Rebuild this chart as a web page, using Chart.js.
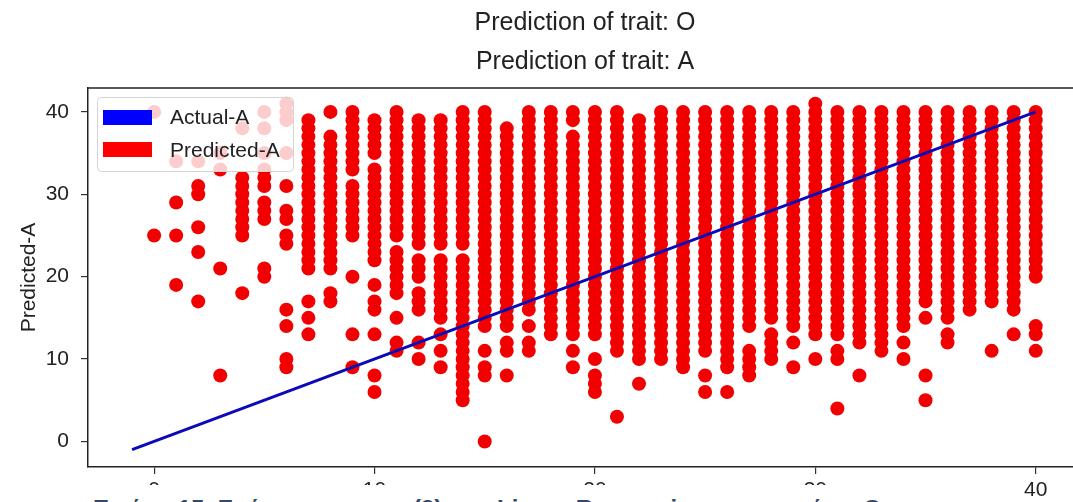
<!DOCTYPE html>
<html>
<head>
<meta charset="utf-8">
<script src="https://cdn.jsdelivr.net/npm/chart.js@4.4.0/dist/chart.umd.min.js"></script>
<style>
  html, body { margin: 0; padding: 0; background: #fff; overflow: hidden; width: 1073px; height: 502px; }
  #wrap { position: relative; width: 1073px; height: 502px; overflow: hidden; }
  #chartCanvas { position: absolute; left: 0; top: 0; }
  #caption { position: absolute; left: 88px; top: 485px; width: 840px; height: 17px; background: #fff; overflow: hidden;
             font: bold 24px "Liberation Sans", Arial, sans-serif; color: #34496a; }
  #caption span { position: absolute; top: 12px; line-height: 24px; white-space: nowrap; }
</style>
</head>
<body>
<div id="wrap">
  <canvas id="chartCanvas" width="1100" height="502"></canvas>
  <div id="caption">
    <span style="left:5px">Εικόνα 15. Γράφημα</span>
    <span style="left:325px">(3) και</span>
    <span style="left:409px">Linear Regression για τον τύπο O</span>
  </div>
</div>
<script>
// actual values (x) 0..40, one column of predicted values for each
const actualScores = [0, 1, 2, 3, 4, 5, 6, 7, 8, 9, 10, 11, 12, 13, 14, 15, 16, 17, 18, 19, 20,
                      21, 22, 23, 24, 25, 26, 27, 28, 29, 30, 31, 32, 33, 34, 35, 36, 37, 38, 39, 40];

// predicted values read per column ("a-b" = every integer from a down to b)
const predictedCols = [
  '40,25', '34,29,25,19', '34,31,30,26,23,17', '35,33,21,8', '38,32-25,18',
  '40,38,35,33-31,29-27,21,20', '41-39,35,31,28,27,25,24,16,14,10,9', '39-21,17,15,13',
  '40,37-21,18,17', '40-33,31-25,20,13,9', '39-35,33-22,19,17,16,13,8,6',
  '40-25,23-18,15,12,11', '39-24,22-20,18-16,12,10', '39-24,22-15,13,11,9', '40-24,22-5',
  '40-14,11,9,8,0', '38-14,12,11,8', '40-16,14,12,11', '40-13', '40,39,37-13,11,9',
  '40-13,10,8-6', '40-11,3', '39-10,7', '40-10', '40-9', '40-11,8,6', '40-9,6',
  '40-14,11-8', '40-15,13-10', '40-14,12,9', '41-13,10', '40-13,11,10,4', '40-12,8',
  '40-11', '40-14,12,10', '40-17,15,8,5', '40-15,13,12', '40-16', '40-17,11',
  '40-16,13', '40-20,14,13,11'
];

const actualLineX = [-1, 40];
const actualLineY = [-1, 40];

const xTickValues = [0, 10, 20, 30, 40];
const yTickValues = [0, 10, 20, 30, 40];

const FONT = '"Liberation Sans", Arial, sans-serif';
const TEXT = '#222';

function expand(spec) {
    const out = [];
    spec.split(',').forEach(part => {
        const [a, b] = part.split('-').map(Number);
        if (b === undefined) out.push(a);
        else for (let v = a; v >= b; v--) out.push(v);
    });
    return out;
}

const predictedPoints = [];
actualScores.forEach((x, i) => {
    expand(predictedCols[i]).forEach(y => predictedPoints.push({x: x, y: y}));
});

const actualPoints = actualLineX.map((x, i) => ({x: x, y: actualLineY[i]}));

// top/right spines and the legend box (drawn over the points, like matplotlib)
const frameAndLegend = {
    id: 'frameAndLegend',
    afterDraw(chart) {
        const c = chart.ctx;
        const a = chart.chartArea;
        c.save();
        c.strokeStyle = '#222';
        c.lineWidth = 1.5;
        c.beginPath();
        c.moveTo(a.left, a.top);
        c.lineTo(a.right, a.top);
        c.lineTo(a.right, a.bottom);
        c.stroke();

        // legend
        c.beginPath();
        c.roundRect(97.5, 97.5, 196, 74, 4);
        c.fillStyle = 'rgba(255,255,255,0.8)';
        c.fill();
        c.strokeStyle = '#d4d4d4';
        c.lineWidth = 1;
        c.stroke();

        c.fillStyle = '#0000ff';
        c.fillRect(103, 110, 49, 15);
        c.fillStyle = '#ff0000';
        c.fillRect(103, 142, 49, 15);

        c.fillStyle = TEXT;
        c.font = '21px ' + FONT;
        c.textBaseline = 'middle';
        c.fillText('Actual-A', 170, 118);
        c.fillText('Predicted-A', 170, 151);
        c.restore();
    }
};

const ctx = document.getElementById('chartCanvas').getContext('2d');

const chart = new Chart(ctx, {
    type: 'scatter',
    data: {
        datasets: [{
            label: 'Actual-A',
            type: 'line',
            data: actualPoints,
            borderColor: '#0a0ab8',
            borderWidth: 3,
            pointRadius: 0,
            fill: false,
            order: 0
        }, {
            label: 'Predicted-A',
            data: predictedPoints,
            backgroundColor: 'rgb(242,0,0)',
            borderWidth: 0,
            pointRadius: 7,
            pointHoverRadius: 7,
            order: 1
        }]
    },
    options: {
        responsive: false,
        animation: false,
        events: [],
        layout: {padding: {left: 0, right: 18, top: 0, bottom: 0}},
        plugins: {
            legend: {display: false},
            tooltip: {enabled: false},
            title: {
                display: true,
                text: 'Prediction of trait: O',
                fullSize: false,
                color: TEXT,
                font: {family: FONT, size: 25, weight: 'normal'},
                padding: {top: 8, bottom: 9}
            },
            subtitle: {
                display: true,
                text: 'Prediction of trait: A',
                fullSize: false,
                color: TEXT,
                font: {family: FONT, size: 25, weight: 'normal'},
                padding: {top: 0, bottom: 11}
            }
        },
        scales: {
            x: {
                type: 'linear',
                min: -3.0,
                max: 42.1,
                afterBuildTicks: s => { s.ticks = xTickValues.map(v => ({value: v})); },
                afterFit: s => { s.height = 35; },
                grid: {drawOnChartArea: false, drawTicks: true, tickLength: 7, color: '#333', lineWidth: 1.2},
                border: {display: true, color: '#222', width: 1.5},
                ticks: {color: TEXT, font: {family: FONT, size: 21}, padding: 4, maxRotation: 0}
            },
            y: {
                type: 'linear',
                min: -3.1,
                max: 42.9,
                afterBuildTicks: s => { s.ticks = yTickValues.map(v => ({value: v})); },
                afterFit: s => { s.width = 88; },
                grid: {drawOnChartArea: false, drawTicks: true, tickLength: 7, color: '#333', lineWidth: 1.2},
                border: {display: true, color: '#222', width: 1.5},
                ticks: {color: TEXT, font: {family: FONT, size: 21}, padding: 12},
                title: {
                    display: true,
                    text: 'Predicted-A',
                    color: TEXT,
                    font: {family: FONT, size: 21},
                    padding: {top: 17, bottom: 0}
                }
            }
        }
    },
    plugins: [frameAndLegend]
});
</script>
</body>
</html>
